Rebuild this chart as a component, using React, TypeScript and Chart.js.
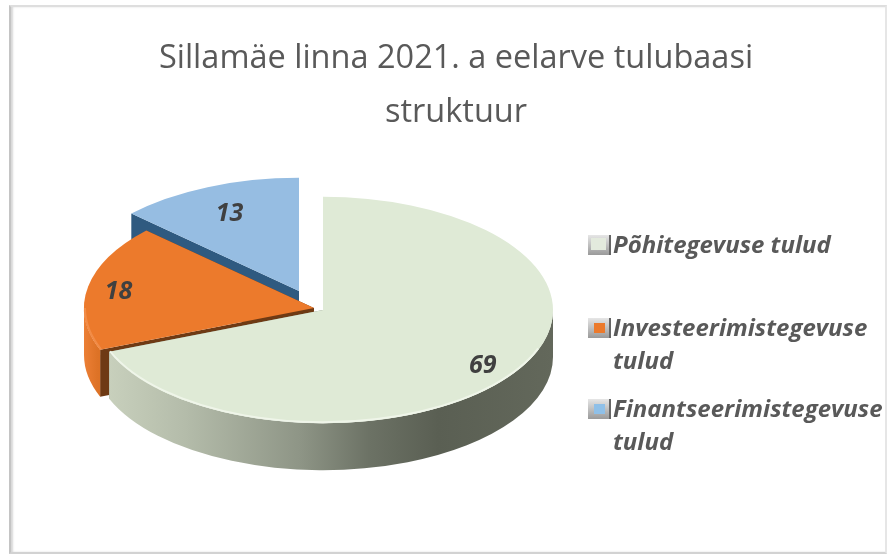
import React, { useEffect, useRef } from "react";
import { Chart, registerables } from "chart.js";

Chart.register(...registerables);

const categories = ["Põhitegevuse tulud", "Investeerimistegevuse tulud", "Finantseerimistegevuse tulud"];
const legendLines = [["Põhitegevuse tulud"], ["Investeerimistegevuse", "tulud"], ["Finantseerimistegevuse", "tulud"]];
const values = [69, 18, 13];
const topColors = ["#dfead6", "#ec7a2c", "#96bde2"];
const radialWallColors = ["#7d8475", "#6e3a14", "#2f5a80"];
const titleLines = ["Sillamäe linna 2021. a eelarve tulubaasi", "struktuur"];

const PIE = { x: 306, y: 304, squash: 0.492, depth: 47, radius: 230 };
const EXPLODE = [[17, 6], [8, 4], [-7, -13]];
const LABEL_FRACTION = [0.84, 0.865, 0.76];
const LEGEND = { iconX: 588, textX: 613, ys: [246, 329, 410], lineHeight: 33, iconSize: 20 };

const rimGradient = (ctx: CanvasRenderingContext2D, i: number, cx: number, r: number) => {
  const g = ctx.createLinearGradient(cx - r, 0, cx + r, 0);
  if (i === 0) {
    g.addColorStop(0, "#ccd4c0");
    g.addColorStop(0.2, "#b4bcaa");
    g.addColorStop(0.45, "#8e9586");
    g.addColorStop(0.6, "#6c7265");
    g.addColorStop(0.75, "#5a5f53");
    g.addColorStop(1, "#63685b");
  } else if (i === 1) {
    g.addColorStop(0, "#ec7f35");
    g.addColorStop(0.03, "#dd7226");
    g.addColorStop(1, "#a0521b");
  } else {
    g.addColorStop(0, "#3a6a94");
    g.addColorStop(1, "#2f5a80");
  }
  return g;
};

const pie3d = {
  id: "pie3d",
  beforeDatasetDraw(chart: any) {
    const ctx: CanvasRenderingContext2D = chart.ctx;
    const meta = chart.getDatasetMeta(0);
    const k = PIE.squash;
    const order = meta.data.map((_: any, i: number) => i).reverse();
    for (const i of order) {
      const el = meta.data[i];
      const cx = PIE.x + EXPLODE[i][0];
      const cy = PIE.y + EXPLODE[i][1];
      const r = el.outerRadius;
      const a0 = el.startAngle;
      const a1 = el.endAngle;
      // radial walls
      ctx.fillStyle = radialWallColors[i];
      for (const a of [a0, a1]) {
        const ex = cx + r * Math.cos(a);
        const ey = cy + k * r * Math.sin(a);
        ctx.beginPath();
        ctx.moveTo(cx, cy);
        ctx.lineTo(ex, ey);
        ctx.lineTo(ex, ey + PIE.depth);
        ctx.lineTo(cx, cy + PIE.depth);
        ctx.closePath();
        ctx.fill();
      }
      // curved wall (front half only)
      const from = Math.max(a0, 0);
      const to = Math.min(a1, Math.PI);
      if (to > from) {
        ctx.fillStyle = rimGradient(ctx, i, cx, r);
        ctx.beginPath();
        ctx.ellipse(cx, cy, r, k * r, 0, from, to);
        ctx.ellipse(cx, cy + PIE.depth, r, k * r, 0, to, from, true);
        ctx.closePath();
        ctx.fill();
      }
      // the top face, drawn by the library's own arc element
      ctx.save();
      ctx.translate(cx, cy);
      ctx.scale(1, k);
      ctx.translate(-el.x, -el.y);
      el.draw(ctx);
      ctx.restore();
      // light bevel along the front rim
      if (i < 2 && to > from) {
        ctx.save();
        ctx.strokeStyle = i === 0 ? "#eff5e9" : "#f28c47";
        ctx.lineWidth = 2;
        ctx.beginPath();
        ctx.ellipse(cx, cy, r - 1, k * r - 1, 0, Math.max(from, i === 0 ? 0.35 : from), to);
        ctx.stroke();
        ctx.restore();
      }
    }
    // value labels
    ctx.save();
    ctx.font = "italic 700 25px 'Open Sans'";
    ctx.fillStyle = "#404040";
    ctx.textAlign = "center";
    ctx.textBaseline = "middle";
    meta.data.forEach((el: any, i: number) => {
      const mid = (el.startAngle + el.endAngle) / 2;
      const r = el.outerRadius * LABEL_FRACTION[i];
      ctx.fillText(String(values[i]), PIE.x + EXPLODE[i][0] + r * Math.cos(mid), PIE.y + EXPLODE[i][1] + 2 + k * r * Math.sin(mid));
    });
    ctx.restore();
    // legend
    ctx.save();
    ctx.font = "italic 700 24px 'Open Sans'";
    ctx.textBaseline = "middle";
    ctx.textAlign = "left";
    legendLines.forEach((lines, i) => {
      const y = LEGEND.ys[i] - 1;
      const s = LEGEND.iconSize;
      const x = LEGEND.iconX;
      const top = y - s / 2;
      const g = ctx.createLinearGradient(0, top, 0, top + s);
      g.addColorStop(0, "#e6e6e6");
      g.addColorStop(1, "#9a9a9a");
      ctx.fillStyle = g;
      ctx.fillRect(x, top, s + 3, s);
      ctx.fillStyle = "#666666";
      ctx.fillRect(x + s + 1, top, 2, s);
      ctx.fillStyle = i === 0 ? "#e3eadd" : i === 1 ? "#ec7a2c" : "#8fc0e8";
      if (i === 0) ctx.fillRect(x + 3, top + 3, 15, 12);
      else ctx.fillRect(x + 6, top + 5, 11, 10);
      ctx.fillStyle = "#595959";
      lines.forEach((t, j) => ctx.fillText(t, LEGEND.textX, LEGEND.ys[i] + j * LEGEND.lineHeight));
    });
    ctx.restore();
    return false;
  },
};

export default function App() {
  const ref = useRef<HTMLCanvasElement>(null);
  useEffect(() => {
    const chart = new Chart(ref.current!, {
      type: "pie",
      data: {
        labels: categories,
        datasets: [{ data: values, backgroundColor: topColors, borderWidth: 0 }],
      },
      options: {
        responsive: false,
        animation: false,
        radius: PIE.radius,
        layout: { padding: { left: 23, top: 32 } },
        plugins: {
          legend: { display: false },
          tooltip: { enabled: false },
          title: {
            display: true,
            text: titleLines,
            color: "#595959",
            font: { family: "'Open Sans'", size: 32.5, weight: "400", lineHeight: 1.66 },
            padding: 0,
          },
        },
      } as any,
      plugins: [pie3d],
    });
    return () => chart.destroy();
  }, []);
  return (
    <div style={{ position: "absolute", left: 0, top: 0, width: 889, height: 557, background: "#fff", overflow: "hidden" }}>
      <div
        style={{
          position: "absolute",
          left: 9,
          top: 5,
          width: 878,
          height: 549,
          boxSizing: "border-box",
          borderTop: "2px solid #dedede",
          borderBottom: "2px solid #d2d2d2",
          borderRight: "2px solid #e6e6e6",
          borderLeft: "2px solid #c4c4c4",
          boxShadow: "inset 2px 0 2px #d8d8d8",
        }}
      />
      <canvas ref={ref} width={889} height={557} style={{ position: "absolute", left: 0, top: 0 }} />
    </div>
  );
}
